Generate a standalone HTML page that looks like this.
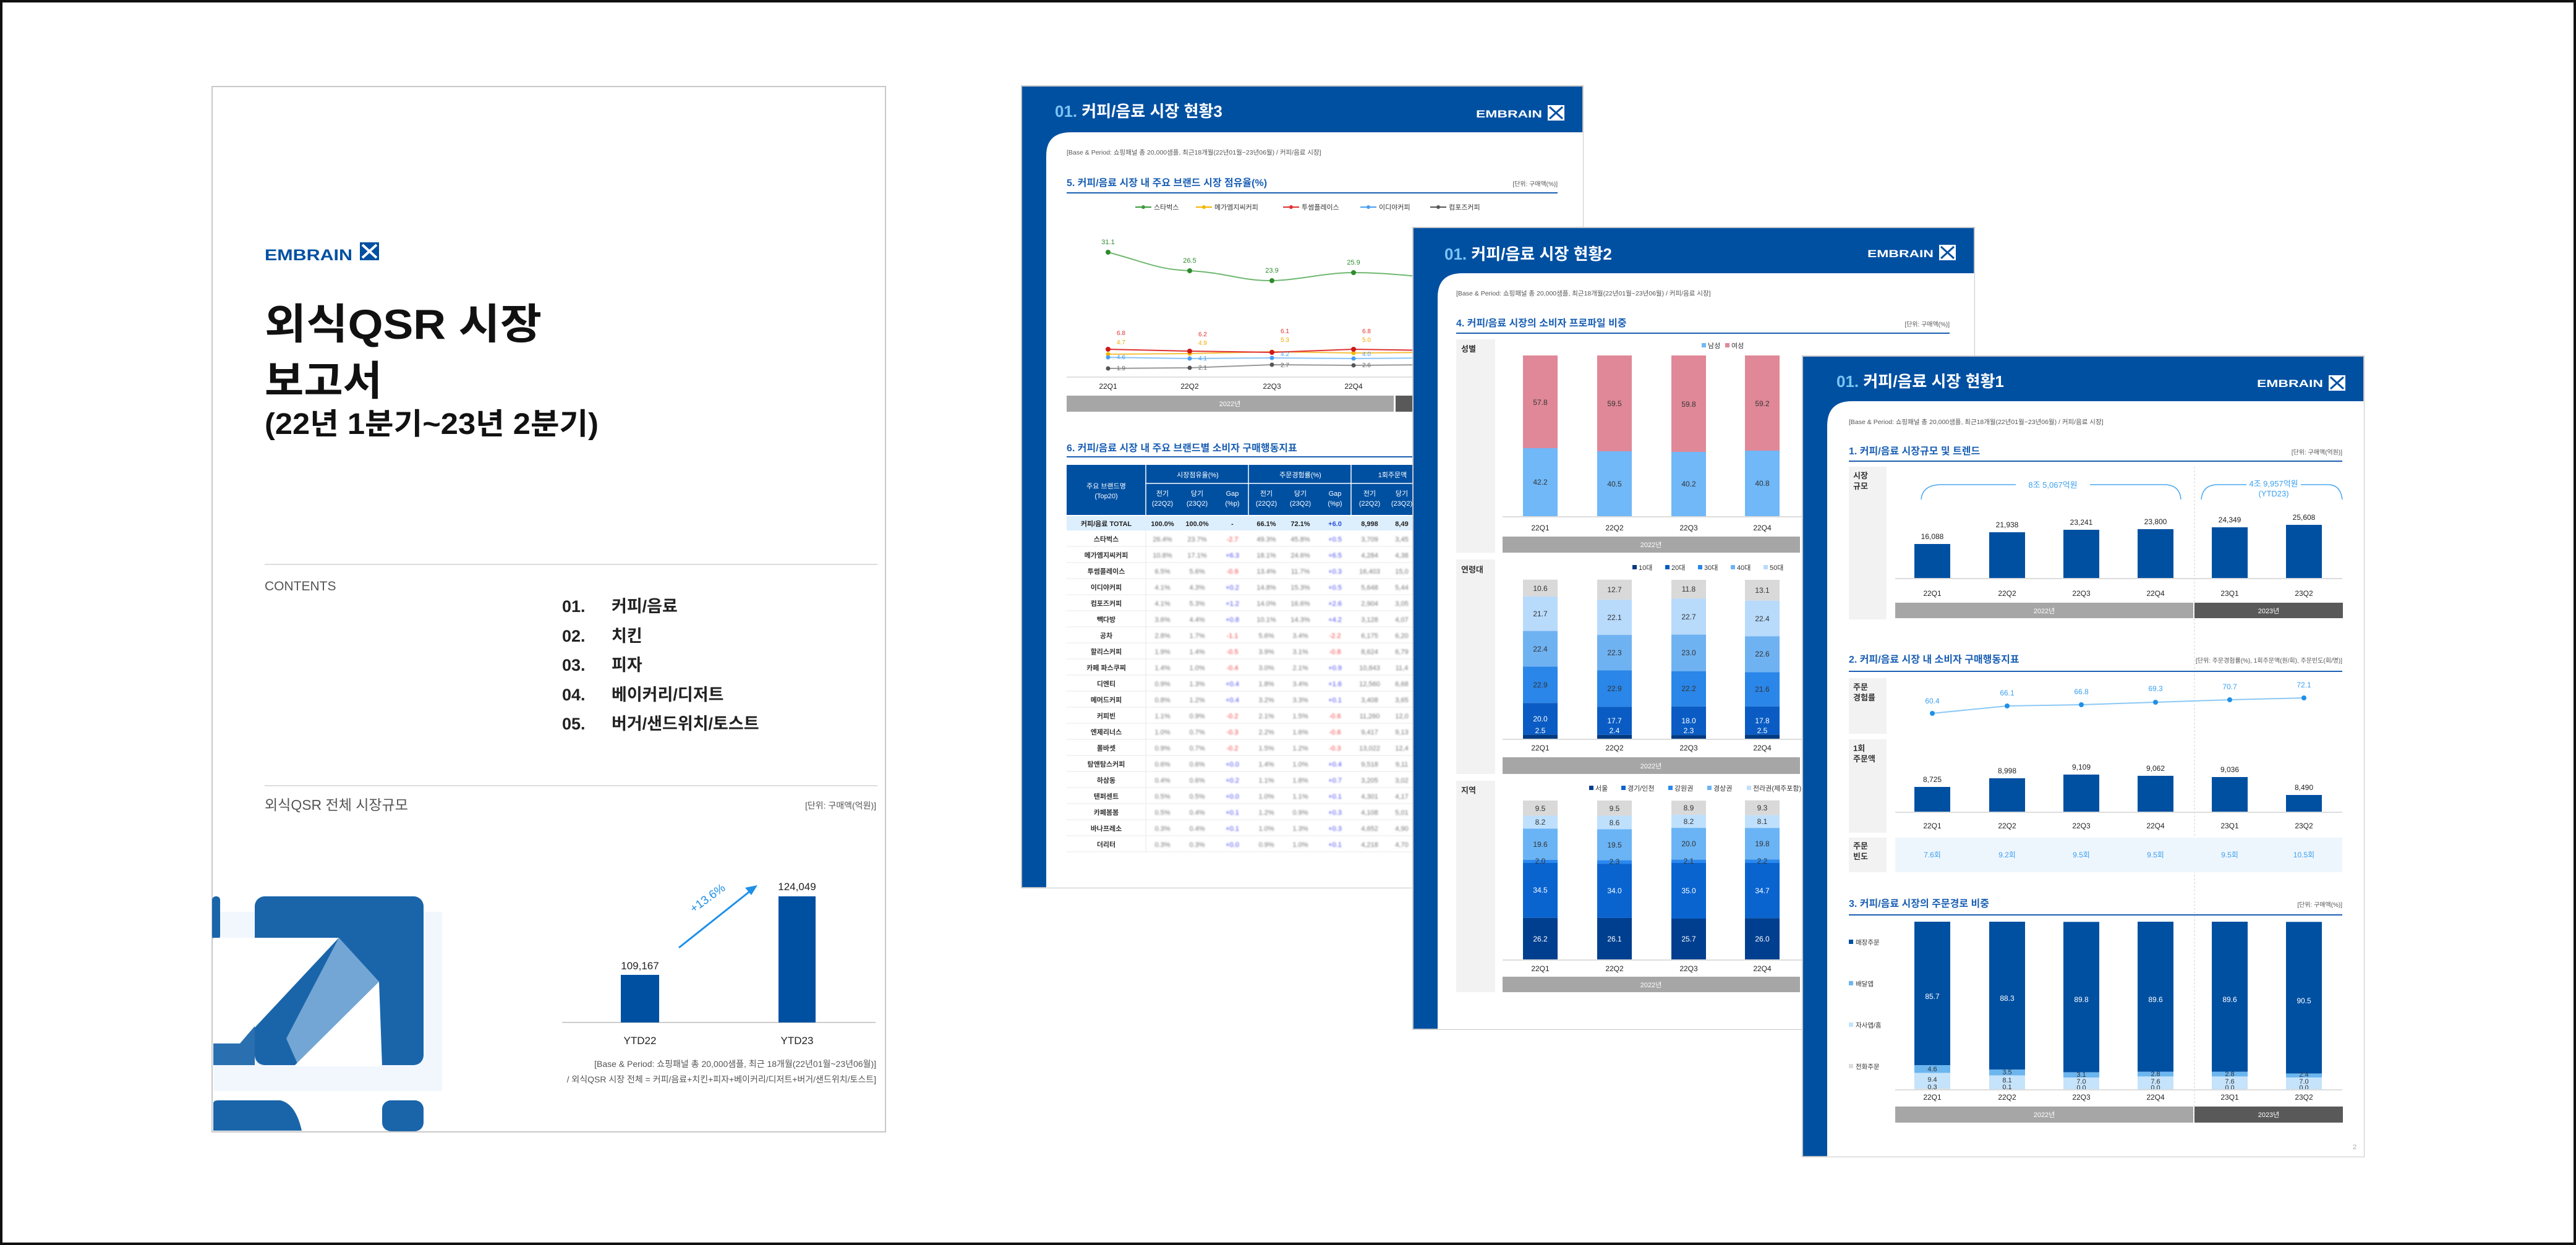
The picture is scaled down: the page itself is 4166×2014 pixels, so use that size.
<!DOCTYPE html>
<html><head><meta charset="utf-8"><style>html,body{margin:0;padding:0;background:#fff}svg{display:block}</style></head><body>
<svg xmlns="http://www.w3.org/2000/svg" width="4166" height="2014" viewBox="0 0 4166 2014" font-family="'Liberation Sans','Noto Sans CJK KR',sans-serif">
<defs><filter id="bl" x="-20%" y="-50%" width="140%" height="200%"><feGaussianBlur stdDeviation="1.3"/></filter></defs>
<rect x="2" y="2" width="4162" height="2010" fill="#fff" stroke="#111" stroke-width="4"/>

<!-- COVER -->
<g transform="translate(343,140)">
<rect x="0" y="0" width="1089" height="1691" fill="#fff" stroke="#c8c8c8" stroke-width="2"/>
<text x="85" y="281" font-size="25" font-weight="bold" fill="#0050a2" textLength="142" lengthAdjust="spacingAndGlyphs">EMBRAIN</text>
<rect x="239" y="252" width="31" height="29" fill="#0050a2"/><path d="M243,256 L266,277 M266,256 L243,277" stroke="#fff" stroke-width="4"/>
<text x="85" y="408" font-size="68" font-weight="bold" fill="#111" textLength="448" lengthAdjust="spacingAndGlyphs">외식QSR 시장</text>
<text x="85" y="499" font-size="66" font-weight="bold" fill="#111" textLength="190" lengthAdjust="spacingAndGlyphs">보고서</text>
<text x="85" y="562" font-size="48" font-weight="bold" fill="#111" textLength="540" lengthAdjust="spacingAndGlyphs">(22년 1분기~23년 2분기)</text>
<line x1="85" y1="773" x2="1076" y2="773" stroke="#ddd" stroke-width="2"/>
<text x="85" y="815" font-size="21" fill="#555">CONTENTS</text>
<g font-size="27" font-weight="bold" fill="#222">
<text x="566" y="850">01.</text><text x="646" y="850">커피/음료</text>
<text x="566" y="898">02.</text><text x="646" y="898">치킨</text>
<text x="566" y="945">03.</text><text x="646" y="945">피자</text>
<text x="566" y="993">04.</text><text x="646" y="993">베이커리/디저트</text>
<text x="566" y="1040">05.</text><text x="646" y="1040">버거/샌드위치/토스트</text>
</g>
<line x1="85" y1="1131" x2="1076" y2="1131" stroke="#ddd" stroke-width="2"/>
<text x="85" y="1170" font-size="23" fill="#555">외식QSR 전체 시장규모</text>
<text x="1074" y="1168" font-size="14" fill="#555" text-anchor="end">[단위: 구매액(억원)]</text>
<line x1="566" y1="1514" x2="1073" y2="1514" stroke="#ccc" stroke-width="2"/>
<rect x="661" y="1437" width="62" height="77" fill="#0050a2"/>
<rect x="916" y="1310" width="60" height="204" fill="#0050a2"/>
<text x="692" y="1428" font-size="17" text-anchor="middle" fill="#222">109,167</text>
<text x="946" y="1300" font-size="17" text-anchor="middle" fill="#222">124,049</text>
<text x="692" y="1549" font-size="17" text-anchor="middle" fill="#222">YTD22</text>
<text x="946" y="1549" font-size="17" text-anchor="middle" fill="#222">YTD23</text>
<line x1="755" y1="1393" x2="872" y2="1300" stroke="#1e90e8" stroke-width="3"/>
<path d="M882,1292 L862,1296 L872,1308 Z" fill="#1e90e8"/>
<text x="0" y="0" font-size="19" fill="#1e90e8" text-anchor="middle" transform="translate(805,1318) rotate(-36)">+13.6%</text>
<text x="1074" y="1586" font-size="14" fill="#555" text-anchor="end">[Base &amp; Period: 쇼핑패널 총 20,000샘플, 최근 18개월(22년01월~23년06월)]</text>
<text x="1074" y="1611" font-size="14" fill="#555" text-anchor="end">/ 외식QSR 시장 전체 = 커피/음료+치킨+피자+베이커리/디저트+버거/샌드위치/토스트]</text>
<!-- decorative -->
<rect x="2" y="1335" width="370" height="290" fill="#eaf2fb" opacity="0.6"/>
<rect x="69" y="1310" width="273" height="273" rx="16" fill="#1a65aa"/>
<rect x="0" y="1310" width="13" height="70" rx="6" fill="#1a65aa"/>
<path d="M2,1377 L205,1377 L45,1548 L2,1548 Z" fill="#fff"/>
<path d="M120,1540 L205,1377 L270,1448 L140,1585 Z" fill="#8ab6de" opacity="0.8"/>
<path d="M132,1585 L270,1448 L275,1585 Z" fill="#fff"/>
<path d="M2,1548 L45,1548 L69,1520 L69,1583 L2,1583 Z" fill="#2a70b0"/>
<path d="M2,1645 Q2,1640 10,1640 L110,1640 Q135,1645 145,1689 L2,1689 Z" fill="#1a65aa"/>
<rect x="275" y="1640" width="67" height="50" rx="14" fill="#1a65aa"/>
</g>

<!-- PAGE 3 -->
<g transform="translate(1652,139)">
<rect x="0" y="0" width="908" height="1297" fill="#0050a2" stroke="#c8c8c8" stroke-width="2"/>
<path d="M40,113 Q40,75 80,75 L908,75 L908,1297 L40,1297 Z" fill="#fff"/>
<text x="54" y="50" font-size="26" font-weight="bold" fill="#fff"><tspan fill="#7cc4f5">01.</tspan> 커피/음료 시장 현황3</text>
<text x="735" y="51" font-size="17" font-weight="bold" fill="#fff" textLength="107" lengthAdjust="spacingAndGlyphs">EMBRAIN</text>
<rect x="851" y="31" width="27" height="25" fill="#fff"/><path d="M854,34 L875,53 M875,34 L854,53" stroke="#0050a2" stroke-width="3"/>
<text x="73" y="111" font-size="10.5" fill="#555">[Base &amp; Period: 쇼핑패널 총 20,000샘플, 최근18개월(22년01월~23년06월) / 커피/음료 시장]</text>
<text x="73" y="162" font-size="16" font-weight="bold" fill="#1a5fb4">5. 커피/음료 시장 내 주요 브랜드 시장 점유율(%)</text>
<text x="867" y="162" font-size="10" fill="#555" text-anchor="end">[단위: 구매액(%)]</text>
<line x1="73" y1="173" x2="867" y2="173" stroke="#1a5fb4" stroke-width="2"/>
<g font-size="11" fill="#333">
<line x1="184" y1="196" x2="210" y2="196" stroke="#3a9b3a" stroke-width="2"/><circle cx="197" cy="196" r="3" fill="#3a9b3a"/><text x="214" y="200">스타벅스</text>
<line x1="282" y1="196" x2="308" y2="196" stroke="#f5b400" stroke-width="2"/><circle cx="295" cy="196" r="3" fill="#f5b400"/><text x="312" y="200">메가엠지씨커피</text>
<line x1="423" y1="196" x2="449" y2="196" stroke="#e03030" stroke-width="2"/><circle cx="436" cy="196" r="3" fill="#e03030"/><text x="453" y="200">투썸플레이스</text>
<line x1="548" y1="196" x2="574" y2="196" stroke="#4a9ff0" stroke-width="2"/><circle cx="561" cy="196" r="3" fill="#4a9ff0"/><text x="578" y="200">이디야커피</text>
<line x1="661" y1="196" x2="687" y2="196" stroke="#555" stroke-width="2"/><circle cx="674" cy="196" r="3" fill="#555"/><text x="691" y="200">컴포즈커피</text>
</g>
<path d="M140,269 C200,285 220,297 272,299 C330,302 360,316 405,315 C450,314 490,302 537,302 C590,302 630,308 670,310 L802,312" fill="none" stroke="#6fb86f" stroke-width="2"/>
<g fill="#2e8b2e"><circle cx="140" cy="269" r="4"/><circle cx="272" cy="299" r="4"/><circle cx="405" cy="315" r="4"/><circle cx="537" cy="302" r="4"/></g>
<g font-size="11" fill="#2e8b2e" text-anchor="middle"><text x="140" y="256">31.1</text><text x="272" y="286">26.5</text><text x="405" y="302">23.9</text><text x="537" y="289">25.9</text></g>
<polyline points="140,434 272,433 405,430 537,432 670,431 802,430" fill="none" stroke="#f5c040" stroke-width="2"/>
<polyline points="140,439 272,441 405,440 537,441 670,440 802,440" fill="none" stroke="#8cc4f5" stroke-width="2"/>
<polyline points="140,457 272,456 405,451 537,452 670,451 802,450" fill="none" stroke="#999" stroke-width="2"/>
<polyline points="140,426 272,429 405,431 537,426 670,428 802,428" fill="none" stroke="#e03030" stroke-width="2"/>
<g fill="#f5b400"><circle cx="140" cy="434" r="3.5"/><circle cx="272" cy="433" r="3.5"/><circle cx="405" cy="430" r="3.5"/><circle cx="537" cy="432" r="3.5"/></g>
<g fill="#4a9ff0"><circle cx="140" cy="439" r="3.5"/><circle cx="272" cy="441" r="3.5"/><circle cx="405" cy="440" r="3.5"/><circle cx="537" cy="441" r="3.5"/></g>
<g fill="#555"><circle cx="140" cy="457" r="3.5"/><circle cx="272" cy="456" r="3.5"/><circle cx="405" cy="451" r="3.5"/><circle cx="537" cy="452" r="3.5"/></g>
<g fill="#d01818"><circle cx="140" cy="426" r="4"/><circle cx="272" cy="429" r="4"/><circle cx="405" cy="431" r="4"/><circle cx="537" cy="426" r="4"/></g>
<g font-size="10" text-anchor="middle">
<g fill="#e03030"><text x="161" y="403">6.8</text><text x="293" y="405">6.2</text><text x="426" y="400">6.1</text><text x="558" y="400">6.8</text></g>
<g fill="#f5a800"><text x="161" y="418">4.7</text><text x="293" y="419">4.9</text><text x="426" y="414">5.3</text><text x="558" y="414">5.0</text></g>
<g fill="#4a9ff0"><text x="161" y="442">4.6</text><text x="293" y="444">4.1</text><text x="426" y="437">4.2</text><text x="558" y="437">4.0</text></g>
<g fill="#666"><text x="161" y="460">1.9</text><text x="293" y="459">2.1</text><text x="426" y="455">2.7</text><text x="558" y="455">2.6</text></g>
</g>
<line x1="73" y1="471" x2="867" y2="471" stroke="#e0e0e0" stroke-width="2"/>
<g font-size="12" fill="#222" text-anchor="middle"><text x="140" y="490">22Q1</text><text x="272" y="490">22Q2</text><text x="405" y="490">22Q3</text><text x="537" y="490">22Q4</text></g>
<rect x="73" y="501" width="529" height="26" fill="#a6a6a6"/><rect x="605" y="501" width="262" height="26" fill="#595959"/>
<text x="337" y="518" font-size="11" fill="#fff" text-anchor="middle">2022년</text>
<text x="73" y="591" font-size="16" font-weight="bold" fill="#1a5fb4">6. 커피/음료 시장 내 주요 브랜드별 소비자 구매행동지표</text>
<line x1="73" y1="600" x2="867" y2="600" stroke="#1a5fb4" stroke-width="2"/>
<rect x="73" y="613" width="560" height="81" fill="#0050a2"/>
<g stroke="#fff" stroke-width="1.5"><line x1="201" y1="613" x2="201" y2="694"/><line x1="367" y1="613" x2="367" y2="694"/><line x1="533" y1="613" x2="533" y2="694"/><line x1="201" y1="643" x2="633" y2="643"/></g>
<g font-size="11" fill="#fff" text-anchor="middle">
<text x="137" y="651">주요 브랜드명</text><text x="137" y="667">(Top20)</text>
<text x="285" y="633">시장점유율(%)</text><text x="451" y="633">주문경험률(%)</text><text x="600" y="633">1회주문액</text>
<text x="228" y="663">전기</text><text x="228" y="679">(22Q2)</text><text x="284" y="663">당기</text><text x="284" y="679">(23Q2)</text><text x="341" y="663">Gap</text><text x="341" y="679">(%p)</text>
<text x="396" y="663">전기</text><text x="396" y="679">(22Q2)</text><text x="451" y="663">당기</text><text x="451" y="679">(23Q2)</text><text x="507" y="663">Gap</text><text x="507" y="679">(%p)</text>
<text x="563" y="663">전기</text><text x="563" y="679">(22Q2)</text><text x="615" y="663">당기</text><text x="615" y="679">(23Q2)</text>
</g>
<rect x="73" y="696" width="560" height="23" fill="#ddeefc"/>
<g font-size="11" font-weight="bold" fill="#222" text-anchor="middle">
<text x="137" y="712">커피/음료 TOTAL</text><text x="228" y="712">100.0%</text><text x="284" y="712">100.0%</text><text x="341" y="712">-</text><text x="396" y="712">66.1%</text><text x="451" y="712">72.1%</text><text x="507" y="712" fill="#2a50e0">+6.0</text><text x="563" y="712">8,998</text><text x="615" y="712">8,49</text>
</g>
<g stroke="#eaeaea" stroke-width="1">
<line x1="73" y1="745" x2="633" y2="745"/><line x1="73" y1="771" x2="633" y2="771"/><line x1="73" y1="797" x2="633" y2="797"/><line x1="73" y1="823" x2="633" y2="823"/><line x1="73" y1="849" x2="633" y2="849"/><line x1="73" y1="875" x2="633" y2="875"/><line x1="73" y1="901" x2="633" y2="901"/><line x1="73" y1="927" x2="633" y2="927"/><line x1="73" y1="953" x2="633" y2="953"/><line x1="73" y1="979" x2="633" y2="979"/><line x1="73" y1="1005" x2="633" y2="1005"/><line x1="73" y1="1031" x2="633" y2="1031"/><line x1="73" y1="1057" x2="633" y2="1057"/><line x1="73" y1="1083" x2="633" y2="1083"/><line x1="73" y1="1109" x2="633" y2="1109"/><line x1="73" y1="1135" x2="633" y2="1135"/><line x1="73" y1="1161" x2="633" y2="1161"/><line x1="73" y1="1187" x2="633" y2="1187"/><line x1="73" y1="1213" x2="633" y2="1213"/><line x1="73" y1="1239" x2="633" y2="1239"/>
<line x1="201" y1="719" x2="201" y2="1239"/>
</g>
<g font-size="11" font-weight="bold" fill="#333" text-anchor="middle">
<text x="137" y="737">스타벅스</text><text x="137" y="763">메가엠지씨커피</text><text x="137" y="789">투썸플레이스</text><text x="137" y="815">이디야커피</text><text x="137" y="841">컴포즈커피</text><text x="137" y="867">빽다방</text><text x="137" y="893">공차</text><text x="137" y="919">할리스커피</text><text x="137" y="945">카페 파스쿠찌</text><text x="137" y="971">디엔티</text><text x="137" y="997">메머드커피</text><text x="137" y="1023">커피빈</text><text x="137" y="1049">엔제리너스</text><text x="137" y="1075">폴바셋</text><text x="137" y="1101">탐앤탐스커피</text><text x="137" y="1127">하삼동</text><text x="137" y="1153">텐퍼센트</text><text x="137" y="1179">카페봄봄</text><text x="137" y="1205">바나프레소</text><text x="137" y="1231">더리터</text>
</g>
<g font-size="11" fill="#777" text-anchor="middle" filter="url(#bl)">
<text y="737"><tspan x="228">26.4%</tspan><tspan x="284">23.7%</tspan><tspan x="396">49.3%</tspan><tspan x="451">45.8%</tspan><tspan x="563">3,709</tspan><tspan x="615">3,45</tspan></text>
<text y="763"><tspan x="228">10.8%</tspan><tspan x="284">17.1%</tspan><tspan x="396">18.1%</tspan><tspan x="451">24.6%</tspan><tspan x="563">4,284</tspan><tspan x="615">4,38</tspan></text>
<text y="789"><tspan x="228">6.5%</tspan><tspan x="284">5.6%</tspan><tspan x="396">13.4%</tspan><tspan x="451">11.7%</tspan><tspan x="563">16,403</tspan><tspan x="615">15,0</tspan></text>
<text y="815"><tspan x="228">4.1%</tspan><tspan x="284">4.3%</tspan><tspan x="396">14.8%</tspan><tspan x="451">15.3%</tspan><tspan x="563">5,648</tspan><tspan x="615">5,44</tspan></text>
<text y="841"><tspan x="228">4.1%</tspan><tspan x="284">5.3%</tspan><tspan x="396">14.0%</tspan><tspan x="451">16.6%</tspan><tspan x="563">2,904</tspan><tspan x="615">3,05</tspan></text>
<text y="867"><tspan x="228">3.6%</tspan><tspan x="284">4.4%</tspan><tspan x="396">10.1%</tspan><tspan x="451">14.3%</tspan><tspan x="563">3,128</tspan><tspan x="615">4,07</tspan></text>
<text y="893"><tspan x="228">2.8%</tspan><tspan x="284">1.7%</tspan><tspan x="396">5.6%</tspan><tspan x="451">3.4%</tspan><tspan x="563">6,175</tspan><tspan x="615">6,20</tspan></text>
<text y="919"><tspan x="228">1.9%</tspan><tspan x="284">1.4%</tspan><tspan x="396">3.9%</tspan><tspan x="451">3.1%</tspan><tspan x="563">8,624</tspan><tspan x="615">6,79</tspan></text>
<text y="945"><tspan x="228">1.4%</tspan><tspan x="284">1.0%</tspan><tspan x="396">3.0%</tspan><tspan x="451">2.1%</tspan><tspan x="563">10,843</tspan><tspan x="615">11,4</tspan></text>
<text y="971"><tspan x="228">0.9%</tspan><tspan x="284">1.3%</tspan><tspan x="396">1.8%</tspan><tspan x="451">3.4%</tspan><tspan x="563">12,560</tspan><tspan x="615">6,68</tspan></text>
<text y="997"><tspan x="228">0.8%</tspan><tspan x="284">1.2%</tspan><tspan x="396">3.2%</tspan><tspan x="451">3.3%</tspan><tspan x="563">3,408</tspan><tspan x="615">3,65</tspan></text>
<text y="1023"><tspan x="228">1.1%</tspan><tspan x="284">0.9%</tspan><tspan x="396">2.1%</tspan><tspan x="451">1.5%</tspan><tspan x="563">11,260</tspan><tspan x="615">12,0</tspan></text>
<text y="1049"><tspan x="228">1.0%</tspan><tspan x="284">0.7%</tspan><tspan x="396">2.2%</tspan><tspan x="451">1.6%</tspan><tspan x="563">9,417</tspan><tspan x="615">9,13</tspan></text>
<text y="1075"><tspan x="228">0.9%</tspan><tspan x="284">0.7%</tspan><tspan x="396">1.5%</tspan><tspan x="451">1.2%</tspan><tspan x="563">13,022</tspan><tspan x="615">12,4</tspan></text>
<text y="1101"><tspan x="228">0.6%</tspan><tspan x="284">0.6%</tspan><tspan x="396">1.4%</tspan><tspan x="451">1.0%</tspan><tspan x="563">9,518</tspan><tspan x="615">9,11</tspan></text>
<text y="1127"><tspan x="228">0.4%</tspan><tspan x="284">0.6%</tspan><tspan x="396">1.1%</tspan><tspan x="451">1.8%</tspan><tspan x="563">3,205</tspan><tspan x="615">3,02</tspan></text>
<text y="1153"><tspan x="228">0.5%</tspan><tspan x="284">0.5%</tspan><tspan x="396">1.0%</tspan><tspan x="451">1.1%</tspan><tspan x="563">4,301</tspan><tspan x="615">4,17</tspan></text>
<text y="1179"><tspan x="228">0.5%</tspan><tspan x="284">0.4%</tspan><tspan x="396">1.2%</tspan><tspan x="451">0.9%</tspan><tspan x="563">4,108</tspan><tspan x="615">5,01</tspan></text>
<text y="1205"><tspan x="228">0.3%</tspan><tspan x="284">0.4%</tspan><tspan x="396">1.0%</tspan><tspan x="451">1.3%</tspan><tspan x="563">4,652</tspan><tspan x="615">4,90</tspan></text>
<text y="1231"><tspan x="228">0.3%</tspan><tspan x="284">0.3%</tspan><tspan x="396">0.9%</tspan><tspan x="451">1.0%</tspan><tspan x="563">4,218</tspan><tspan x="615">4,70</tspan></text>
</g>
<g font-size="11" text-anchor="middle" filter="url(#bl)">
<text x="341" y="737" fill="#f04040">-2.7</text><text x="507" y="737" fill="#4a4af0">+0.5</text>
<text x="341" y="763" fill="#4a4af0">+6.3</text><text x="507" y="763" fill="#4a4af0">+6.5</text>
<text x="341" y="789" fill="#f04040">-0.9</text><text x="507" y="789" fill="#4a4af0">+0.3</text>
<text x="341" y="815" fill="#4a4af0">+0.2</text><text x="507" y="815" fill="#4a4af0">+0.5</text>
<text x="341" y="841" fill="#4a4af0">+1.2</text><text x="507" y="841" fill="#4a4af0">+2.6</text>
<text x="341" y="867" fill="#4a4af0">+0.8</text><text x="507" y="867" fill="#4a4af0">+4.2</text>
<text x="341" y="893" fill="#f04040">-1.1</text><text x="507" y="893" fill="#f04040">-2.2</text>
<text x="341" y="919" fill="#f04040">-0.5</text><text x="507" y="919" fill="#f04040">-0.8</text>
<text x="341" y="945" fill="#f04040">-0.4</text><text x="507" y="945" fill="#4a4af0">+0.9</text>
<text x="341" y="971" fill="#4a4af0">+0.4</text><text x="507" y="971" fill="#4a4af0">+1.6</text>
<text x="341" y="997" fill="#4a4af0">+0.4</text><text x="507" y="997" fill="#4a4af0">+0.1</text>
<text x="341" y="1023" fill="#f04040">-0.2</text><text x="507" y="1023" fill="#f04040">-0.6</text>
<text x="341" y="1049" fill="#f04040">-0.3</text><text x="507" y="1049" fill="#f04040">-0.6</text>
<text x="341" y="1075" fill="#f04040">-0.2</text><text x="507" y="1075" fill="#f04040">-0.3</text>
<text x="341" y="1101" fill="#4a4af0">+0.0</text><text x="507" y="1101" fill="#4a4af0">+0.4</text>
<text x="341" y="1127" fill="#4a4af0">+0.2</text><text x="507" y="1127" fill="#4a4af0">+0.7</text>
<text x="341" y="1153" fill="#4a4af0">+0.0</text><text x="507" y="1153" fill="#4a4af0">+0.1</text>
<text x="341" y="1179" fill="#4a4af0">+0.1</text><text x="507" y="1179" fill="#4a4af0">+0.3</text>
<text x="341" y="1205" fill="#4a4af0">+0.1</text><text x="507" y="1205" fill="#4a4af0">+0.3</text>
<text x="341" y="1231" fill="#4a4af0">+0.0</text><text x="507" y="1231" fill="#4a4af0">+0.1</text>
</g>
</g>

<!-- PAGE 2 -->
<g transform="translate(2285,368)">
<rect x="0" y="0" width="908" height="1297" fill="#0050a2" stroke="#c8c8c8" stroke-width="2"/>
<path d="M40,113 Q40,74 80,74 L908,74 L908,1297 L40,1297 Z" fill="#fff"/>
<text x="51" y="52" font-size="26" font-weight="bold" fill="#fff"><tspan fill="#7cc4f5">01.</tspan> 커피/음료 시장 현황2</text>
<text x="735" y="48" font-size="17" font-weight="bold" fill="#fff" textLength="107" lengthAdjust="spacingAndGlyphs">EMBRAIN</text>
<rect x="851" y="28" width="27" height="25" fill="#fff"/><path d="M854,31 L875,50 M875,31 L854,50" stroke="#0050a2" stroke-width="3"/>
<text x="70" y="110" font-size="10.5" fill="#555">[Base &amp; Period: 쇼핑패널 총 20,000샘플, 최근18개월(22년01월~23년06월) / 커피/음료 시장]</text>
<text x="70" y="160" font-size="16" font-weight="bold" fill="#1a5fb4">4. 커피/음료 시장의 소비자 프로파일 비중</text>
<text x="868" y="160" font-size="10" fill="#555" text-anchor="end">[단위: 구매액(%)]</text>
<line x1="70" y1="171" x2="868" y2="171" stroke="#1a5fb4" stroke-width="2"/>
<g fill="#f2f2f2"><rect x="70" y="181" width="63" height="345"/><rect x="70" y="537" width="63" height="347"/><rect x="70" y="895" width="63" height="342"/></g>
<g font-size="13" font-weight="bold" fill="#333"><text x="78" y="201">성별</text><text x="78" y="558">연령대</text><text x="78" y="915">지역</text></g>
<!-- gender -->
<g font-size="11" fill="#333"><rect x="467" y="187" width="7" height="7" fill="#70b8f8"/><text x="477" y="195">남성</text><rect x="505" y="187" width="7" height="7" fill="#e08898"/><text x="515" y="195">여성</text></g>
<g fill="#e08898"><rect x="178" y="207" width="56" height="150"/><rect x="298" y="207" width="56" height="155"/><rect x="418" y="207" width="56" height="156"/><rect x="537" y="207" width="56" height="154"/></g>
<g fill="#70b8f8"><rect x="178" y="357" width="56" height="110"/><rect x="298" y="362" width="56" height="105"/><rect x="418" y="363" width="56" height="104"/><rect x="537" y="361" width="56" height="106"/></g>
<g font-size="12" fill="#333" text-anchor="middle">
<text x="206" y="287">57.8</text><text x="326" y="289">59.5</text><text x="446" y="290">59.8</text><text x="565" y="289">59.2</text>
<text x="206" y="416">42.2</text><text x="326" y="419">40.5</text><text x="446" y="419">40.2</text><text x="565" y="418">40.8</text>
</g>
<line x1="145" y1="468" x2="868" y2="468" stroke="#ddd" stroke-width="2"/>
<g font-size="12" fill="#222" text-anchor="middle"><text x="206" y="490">22Q1</text><text x="326" y="490">22Q2</text><text x="446" y="490">22Q3</text><text x="565" y="490">22Q4</text></g>
<rect x="145" y="500" width="481" height="26" fill="#a6a6a6"/><rect x="629" y="500" width="239" height="26" fill="#595959"/>
<text x="385" y="517" font-size="11" fill="#fff" text-anchor="middle">2022년</text>
<!-- age -->
<g font-size="11" fill="#333">
<rect x="355" y="546" width="7" height="7" fill="#003a80"/><text x="365" y="554">10대</text>
<rect x="408" y="546" width="7" height="7" fill="#0a5cc4"/><text x="418" y="554">20대</text>
<rect x="461" y="546" width="7" height="7" fill="#2a86e8"/><text x="471" y="554">30대</text>
<rect x="514" y="546" width="7" height="7" fill="#6fb2f2"/><text x="524" y="554">40대</text>
<rect x="567" y="546" width="7" height="7" fill="#b8dafb"/><text x="577" y="554">50대</text>
</g>
<g>
<rect x="178" y="569.7" width="56" height="27.2" fill="#d9d9d9"/><rect x="178" y="596.9" width="56" height="55.8" fill="#b8dafb"/><rect x="178" y="652.7" width="56" height="57.6" fill="#6fb2f2"/><rect x="178" y="710.3" width="56" height="58.9" fill="#2a86e8"/><rect x="178" y="769.2" width="56" height="51.4" fill="#0a5cc4"/><rect x="178" y="820.6" width="56" height="6.4" fill="#003a80"/>
<rect x="298" y="569.7" width="56" height="32.6" fill="#d9d9d9"/><rect x="298" y="602.3" width="56" height="56.8" fill="#b8dafb"/><rect x="298" y="659.1" width="56" height="57.3" fill="#6fb2f2"/><rect x="298" y="716.4" width="56" height="58.9" fill="#2a86e8"/><rect x="298" y="775.3" width="56" height="45.5" fill="#0a5cc4"/><rect x="298" y="820.8" width="56" height="6.2" fill="#003a80"/>
<rect x="418" y="570" width="56" height="30.3" fill="#d9d9d9"/><rect x="418" y="600.3" width="56" height="58.3" fill="#b8dafb"/><rect x="418" y="658.6" width="56" height="59.1" fill="#6fb2f2"/><rect x="418" y="717.7" width="56" height="57.1" fill="#2a86e8"/><rect x="418" y="774.8" width="56" height="46.3" fill="#0a5cc4"/><rect x="418" y="821.1" width="56" height="5.9" fill="#003a80"/>
<rect x="537" y="570" width="56" height="33.7" fill="#d9d9d9"/><rect x="537" y="603.7" width="56" height="57.6" fill="#b8dafb"/><rect x="537" y="661.3" width="56" height="58.1" fill="#6fb2f2"/><rect x="537" y="719.4" width="56" height="55.5" fill="#2a86e8"/><rect x="537" y="774.9" width="56" height="45.7" fill="#0a5cc4"/><rect x="537" y="820.6" width="56" height="6.4" fill="#003a80"/>
</g>
<g font-size="12" text-anchor="middle" fill="#333">
<text x="206" y="588">10.6</text><text x="206" y="629">21.7</text><text x="206" y="686">22.4</text><text x="206" y="744">22.9</text>
<text x="326" y="590">12.7</text><text x="326" y="635">22.1</text><text x="326" y="692">22.3</text><text x="326" y="750">22.9</text>
<text x="446" y="589">11.8</text><text x="446" y="634">22.7</text><text x="446" y="692">23.0</text><text x="446" y="750">22.2</text>
<text x="565" y="591">13.1</text><text x="565" y="637">22.4</text><text x="565" y="694">22.6</text><text x="565" y="751">21.6</text>
</g>
<g font-size="12" text-anchor="middle" fill="#fff">
<text x="206" y="799">20.0</text><text x="206" y="818">2.5</text>
<text x="326" y="802">17.7</text><text x="326" y="818">2.4</text>
<text x="446" y="802">18.0</text><text x="446" y="818">2.3</text>
<text x="565" y="802">17.8</text><text x="565" y="818">2.5</text>
</g>
<line x1="145" y1="828" x2="868" y2="828" stroke="#ddd" stroke-width="2"/>
<g font-size="12" fill="#222" text-anchor="middle"><text x="206" y="846">22Q1</text><text x="326" y="846">22Q2</text><text x="446" y="846">22Q3</text><text x="565" y="846">22Q4</text></g>
<rect x="145" y="857" width="481" height="27" fill="#a6a6a6"/><rect x="629" y="857" width="239" height="27" fill="#595959"/>
<text x="385" y="875" font-size="11" fill="#fff" text-anchor="middle">2022년</text>
<!-- region -->
<g font-size="11" fill="#333">
<rect x="285" y="903" width="7" height="7" fill="#003f8f"/><text x="295" y="911">서울</text>
<rect x="337" y="903" width="7" height="7" fill="#0a64d0"/><text x="347" y="911">경기/인천</text>
<rect x="413" y="903" width="7" height="7" fill="#2a88ee"/><text x="423" y="911">강원권</text>
<rect x="476" y="903" width="7" height="7" fill="#6ab4f5"/><text x="486" y="911">경상권</text>
<rect x="540" y="903" width="7" height="7" fill="#bfe0fc"/><text x="550" y="911">전라권(제주포함)</text>
</g>
<g>
<rect x="178" y="927" width="56" height="24.4" fill="#d9d9d9"/><rect x="178" y="951.4" width="56" height="21.1" fill="#bfe0fc"/><rect x="178" y="972.5" width="56" height="50.4" fill="#6ab4f5"/><rect x="178" y="1022.9" width="56" height="5.1" fill="#2a88ee"/><rect x="178" y="1028" width="56" height="88.7" fill="#0a64d0"/><rect x="178" y="1116.7" width="56" height="67.3" fill="#003f8f"/>
<rect x="298" y="927" width="56" height="24.4" fill="#d9d9d9"/><rect x="298" y="951.4" width="56" height="22.1" fill="#bfe0fc"/><rect x="298" y="973.5" width="56" height="50.1" fill="#6ab4f5"/><rect x="298" y="1023.6" width="56" height="5.9" fill="#2a88ee"/><rect x="298" y="1029.5" width="56" height="87.4" fill="#0a64d0"/><rect x="298" y="1116.9" width="56" height="67.1" fill="#003f8f"/>
<rect x="418" y="927.2" width="56" height="22.9" fill="#d9d9d9"/><rect x="418" y="950.1" width="56" height="21.1" fill="#bfe0fc"/><rect x="418" y="971.2" width="56" height="51.4" fill="#6ab4f5"/><rect x="418" y="1022.6" width="56" height="5.4" fill="#2a88ee"/><rect x="418" y="1028" width="56" height="90" fill="#0a64d0"/><rect x="418" y="1118" width="56" height="66" fill="#003f8f"/>
<rect x="537" y="926.7" width="56" height="23.9" fill="#d9d9d9"/><rect x="537" y="950.6" width="56" height="20.8" fill="#bfe0fc"/><rect x="537" y="971.4" width="56" height="50.9" fill="#6ab4f5"/><rect x="537" y="1022.3" width="56" height="5.7" fill="#2a88ee"/><rect x="537" y="1028" width="56" height="89.2" fill="#0a64d0"/><rect x="537" y="1117.2" width="56" height="66.8" fill="#003f8f"/>
</g>
<g font-size="12" text-anchor="middle" fill="#333">
<text x="206" y="944">9.5</text><text x="206" y="966">8.2</text><text x="206" y="1002">19.6</text><text x="206" y="1029">2.0</text>
<text x="326" y="944">9.5</text><text x="326" y="967">8.6</text><text x="326" y="1003">19.5</text><text x="326" y="1030">2.3</text>
<text x="446" y="943">8.9</text><text x="446" y="965">8.2</text><text x="446" y="1001">20.0</text><text x="446" y="1029">2.1</text>
<text x="565" y="943">9.3</text><text x="565" y="965">8.1</text><text x="565" y="1001">19.8</text><text x="565" y="1029">2.2</text>
</g>
<g font-size="12" text-anchor="middle" fill="#fff">
<text x="206" y="1076">34.5</text><text x="206" y="1155">26.2</text>
<text x="326" y="1077">34.0</text><text x="326" y="1155">26.1</text>
<text x="446" y="1077">35.0</text><text x="446" y="1155">25.7</text>
<text x="565" y="1077">34.7</text><text x="565" y="1155">26.0</text>
</g>
<line x1="145" y1="1185" x2="868" y2="1185" stroke="#ddd" stroke-width="2"/>
<g font-size="12" fill="#222" text-anchor="middle"><text x="206" y="1203">22Q1</text><text x="326" y="1203">22Q2</text><text x="446" y="1203">22Q3</text><text x="565" y="1203">22Q4</text></g>
<rect x="145" y="1212" width="481" height="25" fill="#a6a6a6"/><rect x="629" y="1212" width="239" height="25" fill="#595959"/>
<text x="385" y="1229" font-size="11" fill="#fff" text-anchor="middle">2022년</text>
</g>

<!-- PAGE 1 -->
<g transform="translate(2915,576)">
<rect x="0" y="0" width="908" height="1295" fill="#0050a2" stroke="#c8c8c8" stroke-width="2"/>
<path d="M40,113 Q40,73 80,73 L908,73 L908,1295 L40,1295 Z" fill="#fff"/>
<text x="55" y="50" font-size="26" font-weight="bold" fill="#fff"><tspan fill="#7cc4f5">01.</tspan> 커피/음료 시장 현황1</text>
<text x="735" y="50" font-size="17" font-weight="bold" fill="#fff" textLength="107" lengthAdjust="spacingAndGlyphs">EMBRAIN</text>
<rect x="851" y="31" width="27" height="25" fill="#fff"/><path d="M854,34 L875,53 M875,34 L854,53" stroke="#0050a2" stroke-width="3"/>
<text x="75" y="110" font-size="10.5" fill="#555">[Base &amp; Period: 쇼핑패널 총 20,000샘플, 최근18개월(22년01월~23년06월) / 커피/음료 시장]</text>
<text x="75" y="159" font-size="16" font-weight="bold" fill="#1a5fb4">1. 커피/음료 시장규모 및 트렌드</text>
<text x="873" y="159" font-size="10" fill="#555" text-anchor="end">[단위: 구매액(억원)]</text>
<line x1="75" y1="170" x2="873" y2="170" stroke="#1a5fb4" stroke-width="2"/>
<line x1="634" y1="179" x2="634" y2="1240" stroke="#d0d0d0" stroke-width="1" stroke-dasharray="3,3"/>
<rect x="75" y="179" width="61" height="247" fill="#f2f2f2"/>
<g font-size="13" font-weight="bold" fill="#333"><text x="82" y="198">시장</text><text x="82" y="215">규모</text></g>
<path d="M192,232 Q194,208 225,208 L345,208 M465,208 L585,208 Q610,208 612,232" fill="none" stroke="#4aa8f0" stroke-width="1.5"/>
<text x="405" y="213" font-size="13" fill="#3ba0f0" text-anchor="middle">8조 5,067억원</text>
<path d="M645,232 Q647,208 672,208 L718,208 M806,208 L850,208 Q870,208 873,232" fill="none" stroke="#4aa8f0" stroke-width="1.5"/>
<text x="762" y="211" font-size="13" fill="#3ba0f0" text-anchor="middle">4조 9,957억원</text>
<text x="762" y="227" font-size="13" fill="#3ba0f0" text-anchor="middle">(YTD23)</text>
<g fill="#0050a2"><rect x="181" y="304" width="58" height="55"/><rect x="302" y="285" width="58" height="74"/><rect x="422" y="281" width="58" height="78"/><rect x="542" y="280" width="58" height="79"/><rect x="662" y="277" width="58" height="82"/><rect x="782" y="273" width="58" height="86"/></g>
<line x1="150" y1="360" x2="873" y2="360" stroke="#ddd" stroke-width="2"/>
<g font-size="12" fill="#222" text-anchor="middle">
<text x="210" y="296">16,088</text><text x="331" y="277">21,938</text><text x="451" y="273">23,241</text><text x="571" y="272">23,800</text><text x="691" y="269">24,349</text><text x="811" y="265">25,608</text>
<text x="210" y="388">22Q1</text><text x="331" y="388">22Q2</text><text x="451" y="388">22Q3</text><text x="571" y="388">22Q4</text><text x="691" y="388">23Q1</text><text x="811" y="388">23Q2</text>
</g>
<rect x="150" y="399" width="482" height="25" fill="#a6a6a6"/><rect x="634" y="399" width="240" height="25" fill="#595959"/>
<g font-size="11" fill="#fff" text-anchor="middle"><text x="391" y="416">2022년</text><text x="754" y="416">2023년</text></g>

<text x="75" y="496" font-size="16" font-weight="bold" fill="#1a5fb4">2. 커피/음료 시장 내 소비자 구매행동지표</text>
<text x="873" y="496" font-size="10" fill="#555" text-anchor="end">[단위: 주문경험률(%), 1회주문액(원/회), 주문빈도(회/명)]</text>
<line x1="75" y1="510" x2="873" y2="510" stroke="#1a5fb4" stroke-width="2"/>
<g fill="#f2f2f2"><rect x="75" y="521" width="61" height="90"/><rect x="75" y="620" width="61" height="151"/><rect x="75" y="779" width="61" height="56"/></g>
<g font-size="13" font-weight="bold" fill="#333"><text x="82" y="540">주문</text><text x="82" y="557">경험률</text><text x="82" y="639">1회</text><text x="82" y="656">주문액</text><text x="82" y="797">주문</text><text x="82" y="814">빈도</text></g>
<polyline points="210,578 331,566 451,564 571,560 691,556 811,553" fill="none" stroke="#8cc8f5" stroke-width="2"/>
<g fill="#1e90e8"><circle cx="210" cy="578" r="4"/><circle cx="331" cy="566" r="4"/><circle cx="451" cy="564" r="4"/><circle cx="571" cy="560" r="4"/><circle cx="691" cy="556" r="4"/><circle cx="811" cy="553" r="4"/></g>
<g font-size="12" fill="#3ba0f0" text-anchor="middle"><text x="210" y="562">60.4</text><text x="331" y="549">66.1</text><text x="451" y="547">66.8</text><text x="571" y="542">69.3</text><text x="691" y="539">70.7</text><text x="811" y="536">72.1</text></g>
<g fill="#0050a2"><rect x="181" y="697" width="58" height="40"/><rect x="302" y="683" width="58" height="54"/><rect x="422" y="677" width="58" height="60"/><rect x="542" y="679" width="58" height="58"/><rect x="662" y="681" width="58" height="56"/><rect x="782" y="710" width="58" height="27"/></g>
<line x1="150" y1="738" x2="873" y2="738" stroke="#ddd" stroke-width="2"/>
<g font-size="12" fill="#222" text-anchor="middle">
<text x="210" y="689">8,725</text><text x="331" y="675">8,998</text><text x="451" y="669">9,109</text><text x="571" y="671">9,062</text><text x="691" y="673">9,036</text><text x="811" y="702">8,490</text>
<text x="210" y="764">22Q1</text><text x="331" y="764">22Q2</text><text x="451" y="764">22Q3</text><text x="571" y="764">22Q4</text><text x="691" y="764">23Q1</text><text x="811" y="764">23Q2</text>
</g>
<rect x="150" y="779" width="723" height="56" fill="#eef6fd"/>
<g font-size="12" fill="#3ba0f0" text-anchor="middle"><text x="210" y="811">7.6회</text><text x="331" y="811">9.2회</text><text x="451" y="811">9.5회</text><text x="571" y="811">9.5회</text><text x="691" y="811">9.5회</text><text x="811" y="811">10.5회</text></g>

<text x="75" y="891" font-size="16" font-weight="bold" fill="#1a5fb4">3. 커피/음료 시장의 주문경로 비중</text>
<text x="873" y="891" font-size="10" fill="#555" text-anchor="end">[단위: 구매액(%)]</text>
<line x1="75" y1="904" x2="873" y2="904" stroke="#1a5fb4" stroke-width="2"/>
<g font-size="10.5" fill="#333">
<rect x="75" y="944" width="7" height="7" fill="#0050a2"/><text x="86" y="952">매장주문</text>
<rect x="75" y="1011" width="7" height="7" fill="#6cb6f0"/><text x="86" y="1019">배달앱</text>
<rect x="75" y="1078" width="7" height="7" fill="#c5e3fa"/><text x="86" y="1086">자사앱/홈</text>
<rect x="75" y="1145" width="7" height="7" fill="#ddd"/><text x="86" y="1153">전화주문</text>
</g>
<g>
<rect x="181" y="915" width="58" height="232.2" fill="#0050a2"/><rect x="181" y="1147.2" width="58" height="12.5" fill="#6cb6f0"/><rect x="181" y="1159.7" width="58" height="25.5" fill="#c5e3fa"/><rect x="181" y="1185.2" width="58" height="0.8" fill="#ddd"/>
<rect x="302" y="915" width="58" height="239.3" fill="#0050a2"/><rect x="302" y="1154.3" width="58" height="9.5" fill="#6cb6f0"/><rect x="302" y="1163.8" width="58" height="22.2" fill="#c5e3fa"/>
<rect x="422" y="915.3" width="58" height="243.3" fill="#0050a2"/><rect x="422" y="1158.6" width="58" height="8.4" fill="#6cb6f0"/><rect x="422" y="1167" width="58" height="19" fill="#c5e3fa"/>
<rect x="542" y="915" width="58" height="242.8" fill="#0050a2"/><rect x="542" y="1157.8" width="58" height="7.6" fill="#6cb6f0"/><rect x="542" y="1165.4" width="58" height="20.6" fill="#c5e3fa"/>
<rect x="662" y="915" width="58" height="242.8" fill="#0050a2"/><rect x="662" y="1157.8" width="58" height="7.6" fill="#6cb6f0"/><rect x="662" y="1165.4" width="58" height="20.6" fill="#c5e3fa"/>
<rect x="782" y="915.3" width="58" height="245.2" fill="#0050a2"/><rect x="782" y="1160.5" width="58" height="6.5" fill="#6cb6f0"/><rect x="782" y="1167" width="58" height="19" fill="#c5e3fa"/>
</g>
<g font-size="12" fill="#fff" text-anchor="middle"><text x="210" y="1040">85.7</text><text x="331" y="1043">88.3</text><text x="451" y="1045">89.8</text><text x="571" y="1045">89.6</text><text x="691" y="1045">89.6</text><text x="811" y="1047">90.5</text></g>
<g font-size="11" fill="#333" text-anchor="middle">
<text x="210" y="1157">4.6</text><text x="210" y="1174">9.4</text><text x="210" y="1186">0.3</text>
<text x="331" y="1162">3.5</text><text x="331" y="1175">8.1</text><text x="331" y="1186">0.1</text>
<text x="451" y="1166">3.1</text><text x="451" y="1177">7.0</text><text x="451" y="1187">0.0</text>
<text x="571" y="1165">2.8</text><text x="571" y="1177">7.6</text><text x="571" y="1187">0.0</text>
<text x="691" y="1165">2.8</text><text x="691" y="1177">7.6</text><text x="691" y="1187">0.0</text>
<text x="811" y="1166">2.4</text><text x="811" y="1177">7.0</text><text x="811" y="1187">0.0</text>
</g>
<line x1="150" y1="1187" x2="873" y2="1187" stroke="#ddd" stroke-width="2"/>
<g font-size="12" fill="#222" text-anchor="middle"><text x="210" y="1203">22Q1</text><text x="331" y="1203">22Q2</text><text x="451" y="1203">22Q3</text><text x="571" y="1203">22Q4</text><text x="691" y="1203">23Q1</text><text x="811" y="1203">23Q2</text></g>
<rect x="150" y="1214" width="482" height="26" fill="#a6a6a6"/><rect x="634" y="1214" width="240" height="26" fill="#595959"/>
<g font-size="11" fill="#fff" text-anchor="middle"><text x="391" y="1231">2022년</text><text x="754" y="1231">2023년</text></g>
<text x="890" y="1283" font-size="11" fill="#aaa">2</text>
</g>
</svg>
</body></html>
